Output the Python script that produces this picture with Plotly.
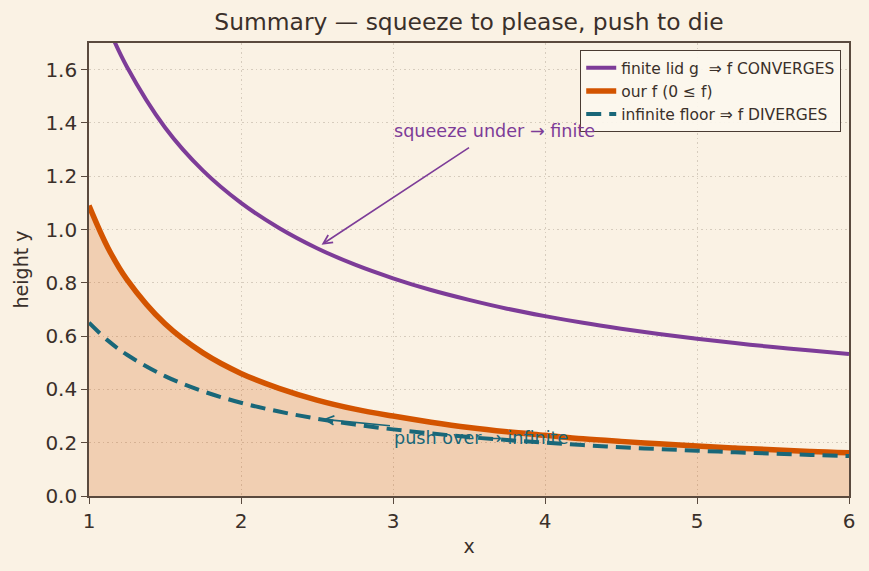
import plotly.graph_objects as go

# ---- data ----
x_vals = [1.0, 1.125, 1.25, 1.5, 1.75, 2.0, 2.25, 2.5, 2.75, 3.0, 3.25, 3.5, 3.75,
          4.0, 4.25, 4.5, 4.75, 5.0, 5.25, 5.5, 5.75, 6.0]
lid_g = [1.95, 1.761, 1.61, 1.383, 1.221, 1.10, 1.006, 0.93, 0.868, 0.817, 0.773, 0.736,
         0.703, 0.675, 0.65, 0.628, 0.608, 0.59, 0.574, 0.559, 0.546, 0.533]
our_f = [1.09, 0.931, 0.812, 0.646, 0.537, 0.46, 0.404, 0.36, 0.326, 0.30, 0.277, 0.257,
         0.241, 0.228, 0.215, 0.205, 0.196, 0.188, 0.180, 0.174, 0.167, 0.162]
floor_h = [0.65, 0.583, 0.53, 0.45, 0.393, 0.35, 0.317, 0.29, 0.268, 0.25, 0.235, 0.221,
           0.21, 0.20, 0.191, 0.183, 0.176, 0.17, 0.164, 0.159, 0.154, 0.15]

x_ticks = [1, 2, 3, 4, 5, 6]
y_ticks = [0.0, 0.2, 0.4, 0.6, 0.8, 1.0, 1.2, 1.4, 1.6]
y_tick_text = ["0.0", "0.2", "0.4", "0.6", "0.8", "1.0", "1.2", "1.4", "1.6"]

names = ["finite lid g  \u21d2 f CONVERGES", "our f (0 \u2264 f)", "infinite floor \u21d2 f DIVERGES"]
title_text = "Summary \u2014 squeeze to please, push to die"

BG = "#FAF2E4"
PURPLE = "#7D3C98"
ORANGE = "#D35400"
TEAL = "#196779"
INK = "#3A302A"
SPINE = "#5A4A3E"
GRID = "#D6CCBD"
FONT = "DejaVu Sans"

fig = go.Figure()

# shaded area under f
fig.add_trace(go.Scatter(x=x_vals, y=our_f, mode="lines", line=dict(width=0, shape="spline", color=ORANGE),
                         fill="tozeroy", fillcolor="rgba(211,84,0,0.22)", showlegend=False, hoverinfo="skip"))

fig.add_trace(go.Scatter(x=x_vals, y=lid_g, mode="lines", name=names[0], legendgroup="a",
                         line=dict(color=PURPLE, width=4, shape="spline")))
fig.add_trace(go.Scatter(x=x_vals, y=our_f, mode="lines", name=names[1], legendgroup="b",
                         line=dict(color=ORANGE, width=5.5, shape="spline")))
fig.add_trace(go.Scatter(x=x_vals, y=floor_h, mode="lines", name=names[2], legendgroup="c",
                         line=dict(color=TEAL, width=4, shape="spline", dash="15px,8px")))

# annotations: arrows
fig.add_annotation(x=2.53, y=0.943, ax=3.51, ay=1.311, xref="x", yref="y", axref="x", ayref="y",
                   text="", showarrow=True, arrowhead=5, arrowsize=1.1, arrowwidth=1.6,
                   arrowcolor=PURPLE, standoff=0)
fig.add_annotation(x=2.54, y=0.288, ax=2.99, ay=0.263, xref="x", yref="y", axref="x", ayref="y",
                   text="", showarrow=True, arrowhead=5, arrowsize=1.1, arrowwidth=1.6,
                   arrowcolor=TEAL, standoff=0)
# annotations: texts
fig.add_annotation(x=3.0, y=1.369, xref="x", yref="y", text="squeeze under \u2192 finite",
                   showarrow=False, xanchor="left", yanchor="middle", borderpad=0,
                   font=dict(family=FONT, size=17.6, color=PURPLE))
fig.add_annotation(x=3.0, y=0.219, xref="x", yref="y", text="push over \u2192 infinite",
                   showarrow=False, xanchor="left", yanchor="middle", borderpad=0,
                   font=dict(family=FONT, size=17.6, color=TEAL))

fig.update_layout(
    width=869, height=571,
    margin=dict(l=89, r=20, t=43, b=75),
    paper_bgcolor=BG, plot_bgcolor=BG,
    font=dict(family=FONT, color=INK, size=19),
    title=dict(text=title_text, x=0.5397, xref="container", xanchor="center",
               y=1 - 22 / 571, yref="container", yanchor="middle",
               font=dict(family=FONT, size=23.4, color=INK)),
    legend=dict(x=0.9895, y=0.9845, xanchor="right", yanchor="top",
                bgcolor="rgba(252,247,238,0.92)", bordercolor="#4A3C33", borderwidth=1.2,
                font=dict(family=FONT, size=15.5, color=INK),
                traceorder="grouped", tracegroupgap=0, itemwidth=30),
    showlegend=True,
)

fig.update_xaxes(range=[1, 6], tickvals=x_ticks, ticktext=[str(v) for v in x_ticks],
                 showgrid=True, gridcolor=GRID, griddash="1.5px,3px", gridwidth=1.2,
                 showline=True, mirror=True, linecolor=SPINE, linewidth=1.6,
                 ticks="outside", ticklen=6, tickwidth=1.4, tickcolor=SPINE,
                 tickfont=dict(family=FONT, size=20, color=INK), zeroline=False,
                 title=dict(text="x", standoff=8, font=dict(family=FONT, size=19, color=INK)))
fig.update_yaxes(range=[0, 1.7], tickvals=y_ticks, ticktext=y_tick_text,
                 showgrid=True, gridcolor=GRID, griddash="1.5px,3px", gridwidth=1.2,
                 showline=True, mirror=True, linecolor=SPINE, linewidth=1.6,
                 ticks="outside", ticklen=6, tickwidth=1.4, tickcolor=SPINE,
                 tickfont=dict(family=FONT, size=20, color=INK), zeroline=False,
                 title=dict(text="height y", standoff=12, font=dict(family=FONT, size=19, color=INK)))

fig.write_html("out.html")
